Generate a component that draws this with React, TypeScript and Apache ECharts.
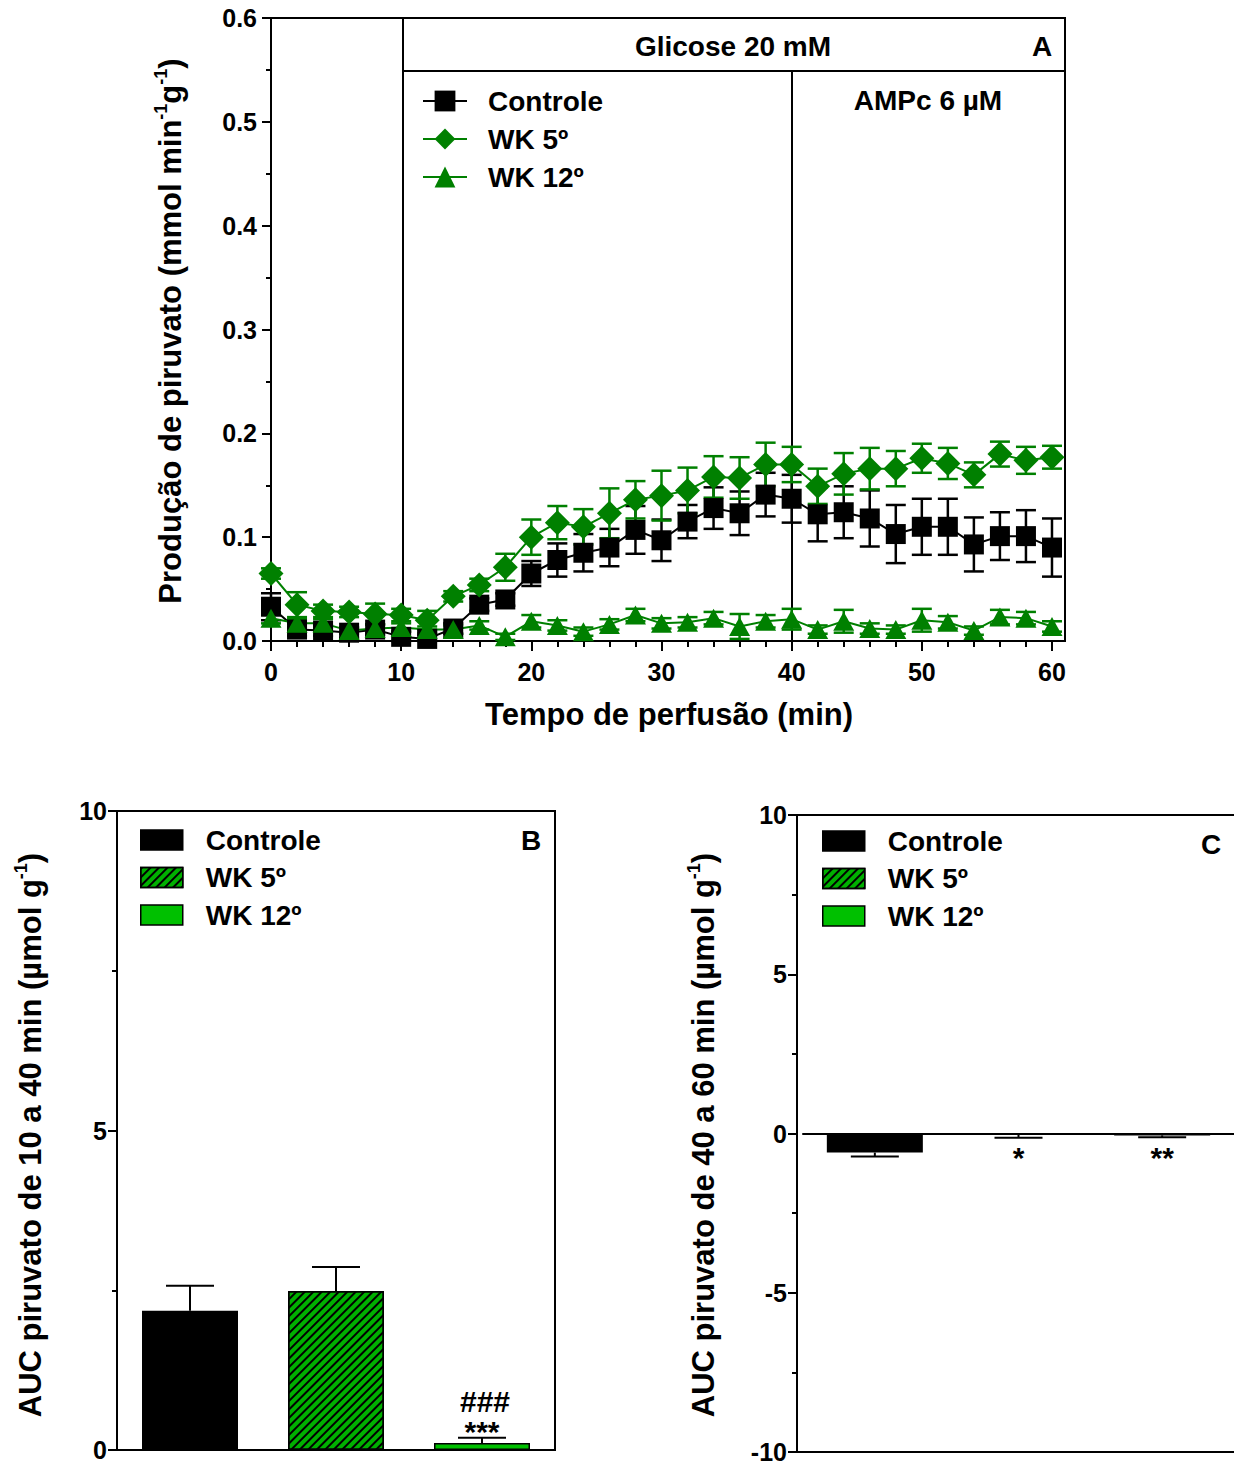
import React, { useEffect, useRef } from 'react';
import * as echarts from 'echarts';

// ---------- Panel A data ----------
const timeMin = [0, 2, 4, 6, 8, 10, 12, 14, 16, 18, 20, 22, 24, 26, 28, 30, 32, 34, 36, 38, 40, 42, 44, 46, 48, 50, 52, 54, 56, 58, 60];
const ctrlMean = [0.033, 0.011, 0.010, 0.008, 0.011, 0.004, 0.002, 0.012, 0.035, 0.040, 0.065, 0.078, 0.085, 0.090, 0.107, 0.097, 0.115, 0.128, 0.123, 0.141, 0.137, 0.122, 0.124, 0.118, 0.103, 0.110, 0.110, 0.093, 0.101, 0.101, 0.090];
const ctrlErr = [0.013, 0.006, 0.005, 0.005, 0.005, 0.005, 0.004, 0.005, 0.006, 0.006, 0.012, 0.016, 0.018, 0.018, 0.023, 0.020, 0.016, 0.020, 0.021, 0.021, 0.023, 0.026, 0.025, 0.027, 0.028, 0.027, 0.027, 0.026, 0.023, 0.025, 0.028];
const wk5Mean = [0.065, 0.035, 0.029, 0.028, 0.026, 0.025, 0.020, 0.043, 0.054, 0.071, 0.100, 0.114, 0.110, 0.123, 0.136, 0.140, 0.145, 0.158, 0.157, 0.170, 0.170, 0.149, 0.161, 0.166, 0.166, 0.176, 0.171, 0.160, 0.180, 0.174, 0.177];
const wk5Err = [0.005, 0.012, 0.006, 0.005, 0.010, 0.006, 0.009, 0.005, 0.006, 0.013, 0.017, 0.016, 0.017, 0.024, 0.018, 0.024, 0.022, 0.020, 0.020, 0.021, 0.017, 0.017, 0.020, 0.020, 0.017, 0.014, 0.015, 0.012, 0.012, 0.013, 0.011];
const wk12Mean = [0.022, 0.017, 0.017, 0.010, 0.012, 0.013, 0.011, 0.011, 0.015, 0.004, 0.019, 0.015, 0.009, 0.016, 0.025, 0.017, 0.018, 0.022, 0.014, 0.019, 0.021, 0.011, 0.019, 0.012, 0.011, 0.020, 0.018, 0.010, 0.023, 0.022, 0.014];
const wk12Err = [0.005, 0.004, 0.004, 0.003, 0.004, 0.004, 0.003, 0.004, 0.004, 0.003, 0.006, 0.005, 0.004, 0.005, 0.006, 0.005, 0.005, 0.006, 0.012, 0.006, 0.010, 0.004, 0.011, 0.005, 0.004, 0.011, 0.006, 0.004, 0.007, 0.006, 0.005];
const xMajorTicks = [0, 10, 20, 30, 40, 50, 60];
const xMinorTicks = [2, 4, 6, 8, 12, 14, 16, 18, 22, 24, 26, 28, 32, 34, 36, 38, 42, 44, 46, 48, 52, 54, 56, 58];

// ---------- Panels B & C data ----------
const groups = ['Controle', 'WK 5º', 'WK 12º'];
const aucB = [2.18, 2.49, 0.11];
const aucBErr = [0.39, 0.375, 0.08];
const sigB = ['', '', '***'];
const hashB = ['', '', '###'];
const aucC = [-0.6, -0.03, -0.06];
const aucCErr = [0.12, 0.1, 0.06];
const sigC = ['', '*', '**'];

const FONT = 'Liberation Sans, Arial, Helvetica, sans-serif';
const GREEN_A = '#008000';
const HATCH_GREEN = '#00b000';
const BRIGHT_GREEN = '#00c000';
const barColors = ['#000000', HATCH_GREEN, BRIGHT_GREEN];

const hatch = {
  symbol: 'rect',
  symbolSize: 1,
  color: '#000',
  dashArrayX: [1, 0],
  dashArrayY: [2, 4],
  rotation: -Math.PI / 4,
};

function errSeriesA(name: string, means: number[], errs: number[], color: string) {
  return {
    type: 'custom',
    name,
    xAxisIndex: 0,
    yAxisIndex: 0,
    data: timeMin.map((t, i) => [t, means[i], errs[i]]),
    encode: { x: 0, y: 1 },
    silent: true,
    renderItem: (params: any, api: any) => {
      const x = api.value(0);
      const y = api.value(1);
      const e = api.value(2);
      const top = api.coord([x, y + e]);
      const bot = api.coord([x, Math.max(0, y - e)]);
      const hw = 10;
      const st = { stroke: color, lineWidth: 2.5 };
      return {
        type: 'group',
        children: [
          { type: 'line', shape: { x1: top[0], y1: top[1], x2: bot[0], y2: bot[1] }, style: st },
          { type: 'line', shape: { x1: top[0] - hw, y1: top[1], x2: top[0] + hw, y2: top[1] }, style: st },
          { type: 'line', shape: { x1: bot[0] - hw, y1: bot[1], x2: bot[0] + hw, y2: bot[1] }, style: st },
        ],
      };
    },
  };
}

function lineSeriesA(name: string, means: number[], color: string, symbol: string, size: any) {
  return {
    type: 'line',
    name,
    xAxisIndex: 0,
    yAxisIndex: 0,
    data: timeMin.map((t, i) => [t, means[i]]),
    symbol,
    symbolSize: size,
    showAllSymbol: true,
    lineStyle: { color, width: 2 },
    itemStyle: { color, borderWidth: 0 },
  };
}

function barSeries(prefix: string, values: number[], xIdx: number, yIdx: number) {
  return groups.map((g, gi) => ({
    type: 'bar',
    name: prefix + g,
    xAxisIndex: xIdx,
    yAxisIndex: yIdx,
    barWidth: 96,
    barGap: '-100%',
    data: values.map((v, i) => (i === gi ? v : null)),
    itemStyle: {
      color: barColors[gi],
      borderColor: '#000',
      borderWidth: 1.5,
      decal: gi === 1 ? hatch : undefined,
    },
  }));
}

function barErrSeries(name: string, values: number[], errs: number[], labels1: string[], labels2: string[], xIdx: number, yIdx: number) {
  return {
    type: 'custom',
    name,
    xAxisIndex: xIdx,
    yAxisIndex: yIdx,
    silent: true,
    z: 5,
    data: values.map((v, i) => [i, v, errs[i]]),
    encode: { x: 0, y: 1 },
    renderItem: (params: any, api: any) => {
      const i = params.dataIndex;
      const x = api.value(0);
      const v = api.value(1);
      const e = api.value(2);
      const sign = v >= 0 ? 1 : -1;
      const p0 = api.coord([x, v]);
      const p1 = api.coord([x, v + sign * e]);
      const hw = 24;
      const st = { stroke: '#000', lineWidth: 2 };
      const children: any[] = [
        { type: 'line', shape: { x1: p0[0], y1: p0[1], x2: p1[0], y2: p1[1] }, style: st },
        { type: 'line', shape: { x1: p1[0] - hw, y1: p1[1], x2: p1[0] + hw, y2: p1[1] }, style: st },
      ];
      const tf = { fill: '#000', fontSize: 30, fontWeight: 'bold', fontFamily: FONT, align: 'center', verticalAlign: 'top' };
      if (sign > 0) {
        if (labels1[i]) children.push({ type: 'text', x: p1[0], y: p1[1] - 21, style: { ...tf, text: labels1[i] } });
        if (labels2[i]) children.push({ type: 'text', x: p1[0] + 3, y: p1[1] - 51, style: { ...tf, text: labels2[i] } });
      } else {
        if (labels1[i]) children.push({ type: 'text', x: p1[0], y: p1[1] + 5, style: { ...tf, text: labels1[i] } });
      }
      return { type: 'group', children };
    },
  };
}

const axisLineStyle = { color: '#000', width: 2 };
const tickLabel = { color: '#000', fontSize: 25, fontWeight: 'bold', fontFamily: FONT };
const legendText = { color: '#000', fontSize: 28, fontWeight: 'bold', fontFamily: FONT };

function txt(x: number, y: number, text: string, size = 28, align = 'center', rotation = 0, rich?: any) {
  return {
    type: 'text',
    x,
    y,
    rotation,
    silent: true,
    style: {
      text,
      fill: '#000',
      fontSize: size,
      fontWeight: 'bold',
      fontFamily: FONT,
      align,
      verticalAlign: 'middle',
      rich,
    },
  };
}

function ln(x1: number, y1: number, x2: number, y2: number) {
  return { type: 'line', silent: true, shape: { x1, y1, x2, y2 }, style: { stroke: '#000', lineWidth: 2 } };
}

const supRich = {
  a: { fontSize: 31, fontWeight: 'bold', fontFamily: FONT, fill: '#000', lineHeight: 36 },
  s: { fontSize: 18, fontWeight: 'bold', fontFamily: FONT, fill: '#000', verticalAlign: 'top', lineHeight: 36, padding: [0, 0, 15, 0] },
};

export default function App() {
  const ref = useRef<HTMLDivElement>(null);
  useEffect(() => {
    if (!ref.current) return;
    const chart = echarts.init(ref.current, undefined, { renderer: 'svg' });
    const option: any = {
      animation: false,
      backgroundColor: '#fff',
      grid: [
        { left: 271, top: 18, width: 794, height: 623, show: true, borderColor: '#000', borderWidth: 2 },
        { left: 117, top: 811, width: 438, height: 639, show: true, borderColor: '#000', borderWidth: 2 },
        { left: 803, top: 815, width: 437, height: 637, show: false },
      ],
      xAxis: [
        {
          type: 'value', gridIndex: 0, min: 0, max: 61,
          axisLine: { lineStyle: axisLineStyle },
          axisTick: { length: 10, lineStyle: { width: 2 }, customValues: xMajorTicks },
          axisLabel: { ...tickLabel, margin: 18, customValues: xMajorTicks },
          splitLine: { show: false },
        },
        {
          type: 'value', gridIndex: 0, min: 0, max: 61, position: 'bottom',
          axisLine: { show: false },
          axisTick: { length: 6, lineStyle: { width: 2, color: '#000' }, customValues: xMinorTicks },
          axisLabel: { show: false },
          splitLine: { show: false },
        },
        {
          type: 'category', gridIndex: 1, data: groups,
          axisLine: { lineStyle: axisLineStyle },
          axisTick: { show: false }, axisLabel: { show: false },
        },
        {
          type: 'category', gridIndex: 2, data: groups,
          axisLine: { onZero: true, lineStyle: axisLineStyle },
          axisTick: { show: false }, axisLabel: { show: false },
        },
      ],
      yAxis: [
        {
          type: 'value', gridIndex: 0, min: 0, max: 0.6, interval: 0.1,
          axisLine: { show: true, lineStyle: axisLineStyle },
          axisTick: { show: true, length: 9, lineStyle: { width: 2 } },
          minorTick: { show: true, splitNumber: 2, length: 5, lineStyle: { width: 2, color: '#000' } },
          axisLabel: { ...tickLabel, margin: 14, formatter: (v: number) => v.toFixed(1) },
          splitLine: { show: false },
        },
        {
          type: 'value', gridIndex: 1, min: 0, max: 10, interval: 5,
          axisLine: { show: true, lineStyle: axisLineStyle },
          axisTick: { show: true, length: 9, lineStyle: { width: 2 } },
          minorTick: { show: true, splitNumber: 2, length: 5, lineStyle: { width: 2, color: '#000' } },
          axisLabel: { ...tickLabel, margin: 10 },
          splitLine: { show: false },
        },
        {
          type: 'value', gridIndex: 2, min: -10, max: 10, interval: 5, offset: 6,
          axisLine: { show: true, lineStyle: axisLineStyle },
          axisTick: { show: true, length: 9, lineStyle: { width: 2 } },
          minorTick: { show: true, splitNumber: 2, length: 5, lineStyle: { width: 2, color: '#000' } },
          axisLabel: { ...tickLabel, margin: 10 },
          splitLine: { show: false },
        },
      ],
      legend: [
        {
          data: ['A:Controle', 'A:WK 5º', 'A:WK 12º'],
          formatter: (n: string) => n.slice(2),
          orient: 'vertical', left: 417, top: 82, itemWidth: 44, itemHeight: 26, itemGap: 10,
          textStyle: { ...legendText, padding: [0, 0, 0, 16] }, selectedMode: false,
        },
        {
          data: ['B:Controle', 'B:WK 5º', 'B:WK 12º'],
          formatter: (n: string) => n.slice(2),
          icon: 'rect',
          orient: 'vertical', left: 135, top: 821, itemWidth: 42, itemHeight: 20, itemGap: 9.5,
          textStyle: { ...legendText, padding: [0, 0, 0, 18] }, selectedMode: false,
          itemStyle: { borderColor: '#000', borderWidth: 1.5 },
        },
        {
          data: ['C:Controle', 'C:WK 5º', 'C:WK 12º'],
          formatter: (n: string) => n.slice(2),
          icon: 'rect',
          orient: 'vertical', left: 817, top: 822, itemWidth: 42, itemHeight: 20, itemGap: 9.5,
          textStyle: { ...legendText, padding: [0, 0, 0, 18] }, selectedMode: false,
          itemStyle: { borderColor: '#000', borderWidth: 1.5 },
        },
      ],
      series: [
        errSeriesA('errCtrl', ctrlMean, ctrlErr, '#000'),
        lineSeriesA('A:Controle', ctrlMean, '#000', 'rect', 20),
        errSeriesA('errWk5', wk5Mean, wk5Err, GREEN_A),
        lineSeriesA('A:WK 5º', wk5Mean, GREEN_A, 'diamond', 25),
        errSeriesA('errWk12', wk12Mean, wk12Err, GREEN_A),
        lineSeriesA('A:WK 12º', wk12Mean, GREEN_A, 'triangle', [21, 19]),
        ...barSeries('B:', aucB, 2, 1),
        barErrSeries('errB', aucB, aucBErr, sigB, hashB, 2, 1),
        ...barSeries('C:', aucC, 3, 2),
        barErrSeries('errC', aucC, aucCErr, sigC, ['', '', ''], 3, 2),
      ],
      graphic: {
        elements: [
          ln(403, 18, 403, 641),
          ln(403, 71, 1065, 71),
          ln(792, 71, 792, 641),
          ln(797, 815, 1240, 815),
          ln(797, 1452, 1240, 1452),
          txt(733, 46, 'Glicose 20 mM', 28),
          txt(1042, 46, 'A', 28),
          txt(928, 100, 'AMPc 6 µM', 28),
          txt(669, 714, 'Tempo de perfusão (min)', 31),
          txt(170, 331, '{a|Produção de piruvato (mmol min}{s|-1}{a|g}{s|-1}{a|)}', 31, 'center', Math.PI / 2, supRich),
          txt(531, 840, 'B', 28),
          txt(1211, 844, 'C', 28),
          txt(30, 1135, '{a|AUC piruvato de 10 a 40 min (µmol g}{s|-1}{a|)}', 31, 'center', Math.PI / 2, supRich),
          txt(703, 1135, '{a|AUC piruvato de 40 a 60 min (µmol g}{s|-1}{a|)}', 31, 'center', Math.PI / 2, supRich),
        ],
      },
    };
    chart.setOption(option);
    return () => chart.dispose();
  }, []);
  return <div ref={ref} style={{ position: 'fixed', left: 0, top: 0, width: 1234, height: 1465 }} />;
}
